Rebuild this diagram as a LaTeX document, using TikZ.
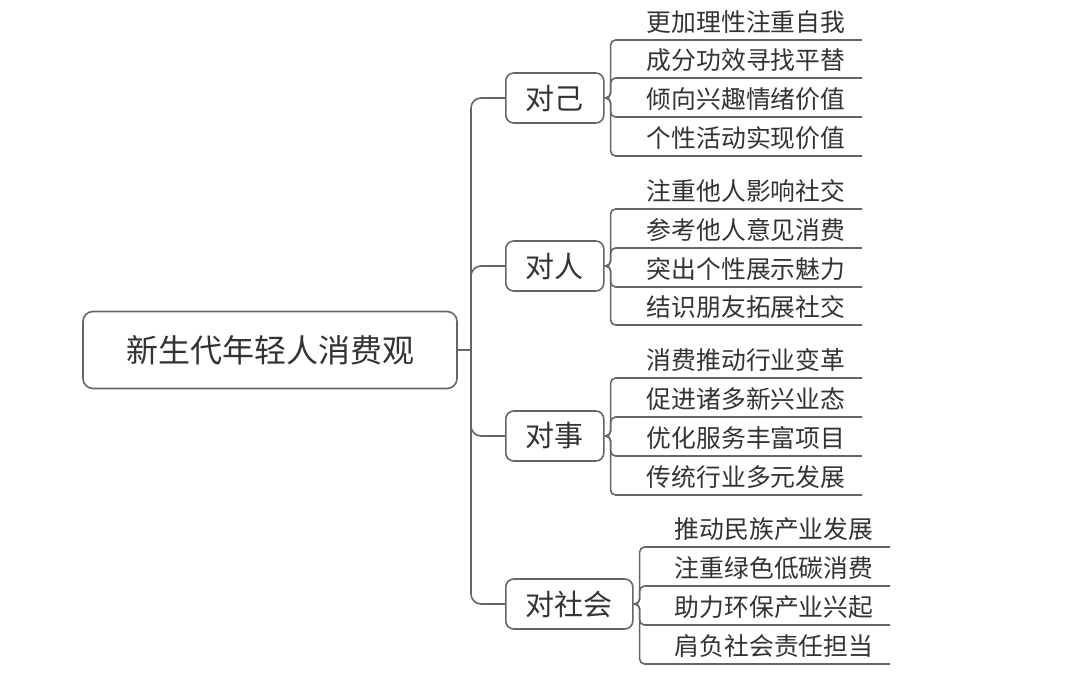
\documentclass[tikz,border=0pt]{standalone}
\usepackage{fontspec}
\setmainfont{Noto Sans CJK SC}
\usepackage{tikz}
\definecolor{linegray}{HTML}{666666}
\definecolor{txtgray}{HTML}{333333}

\begin{document}
\begin{tikzpicture}[x=0.5pt, y=-0.5pt, line width=0.8pt, color=linegray,
    root/.style={draw, rounded corners=5pt, text=txtgray, minimum width=187pt, minimum height=38.5pt, font=\fontsize{16}{16}\selectfont},
    branch/.style={draw, rounded corners=4pt, text=txtgray, anchor=west, minimum height=25pt, inner xsep=10pt, font=\fontsize{14.5}{14.5}\selectfont},
    leaf/.style={anchor=south east, text=txtgray, inner xsep=8pt, inner ysep=3pt, font=\fontsize{12.4}{12.4}\selectfont},
    trunk/.style={rounded corners=5pt},
    twig/.style={rounded corners=2.5pt}]
                \useasboundingbox (0,0) rectangle (1080,684);

                \node[root] (root) at (270,350) {新生代年轻人消费观};
                \coordinate (hub) at (471,350);

                \node[branch] (self) at (505,98) {对己};
                \node[branch] (people) at (505,266) {对人};
                \node[branch] (things) at (505,436) {对事};
                \node[branch] (society) at (505,604) {对社会};

                % 对己
                \node[leaf] (self1) at (862,40) {更加理性注重自我};
                \node[leaf] (self2) at (862,78) {成分功效寻找平替};
                \node[leaf] (self3) at (862,117) {倾向兴趣情绪价值};
                \node[leaf] (self4) at (862,156) {个性活动实现价值};

                % 对人
                \node[leaf] (people1) at (862,209) {注重他人影响社交};
                \node[leaf] (people2) at (862,248) {参考他人意见消费};
                \node[leaf] (people3) at (862,287) {突出个性展示魅力};
                \node[leaf] (people4) at (862,325) {结识朋友拓展社交};

                % 对事
                \node[leaf] (things1) at (862,378) {消费推动行业变革};
                \node[leaf] (things2) at (862,417) {促进诸多新兴业态};
                \node[leaf] (things3) at (862,456) {优化服务丰富项目};
                \node[leaf] (things4) at (862,495) {传统行业多元发展};

                % 对社会
                \node[leaf] (society1) at (890,547) {推动民族产业发展};
                \node[leaf] (society2) at (890,586) {注重绿色低碳消费};
                \node[leaf] (society3) at (890,625) {助力环保产业兴起};
                \node[leaf] (society4) at (890,664) {肩负社会责任担当};

                % connectors
                \draw (root.east) -- (hub);
                \draw[trunk] (hub) |- (self.west);
                \draw[trunk] (hub) |- (people.west);
                \draw[trunk] (hub) |- (things.west);
                \draw[trunk] (hub) |- (society.west);

                \draw[twig] (self.east) -- ++(6,0) |- (self1.south east);
                \draw[twig] (self.east) -- ++(6,0) |- (self2.south east);
                \draw[twig] (self.east) -- ++(6,0) |- (self3.south east);
                \draw[twig] (self.east) -- ++(6,0) |- (self4.south east);

                \draw[twig] (people.east) -- ++(6,0) |- (people1.south east);
                \draw[twig] (people.east) -- ++(6,0) |- (people2.south east);
                \draw[twig] (people.east) -- ++(6,0) |- (people3.south east);
                \draw[twig] (people.east) -- ++(6,0) |- (people4.south east);

                \draw[twig] (things.east) -- ++(6,0) |- (things1.south east);
                \draw[twig] (things.east) -- ++(6,0) |- (things2.south east);
                \draw[twig] (things.east) -- ++(6,0) |- (things3.south east);
                \draw[twig] (things.east) -- ++(6,0) |- (things4.south east);

                \draw[twig] (society.east) -- ++(6,0) |- (society1.south east);
                \draw[twig] (society.east) -- ++(6,0) |- (society2.south east);
                \draw[twig] (society.east) -- ++(6,0) |- (society3.south east);
                \draw[twig] (society.east) -- ++(6,0) |- (society4.south east);
            \end{tikzpicture}
\end{document}
